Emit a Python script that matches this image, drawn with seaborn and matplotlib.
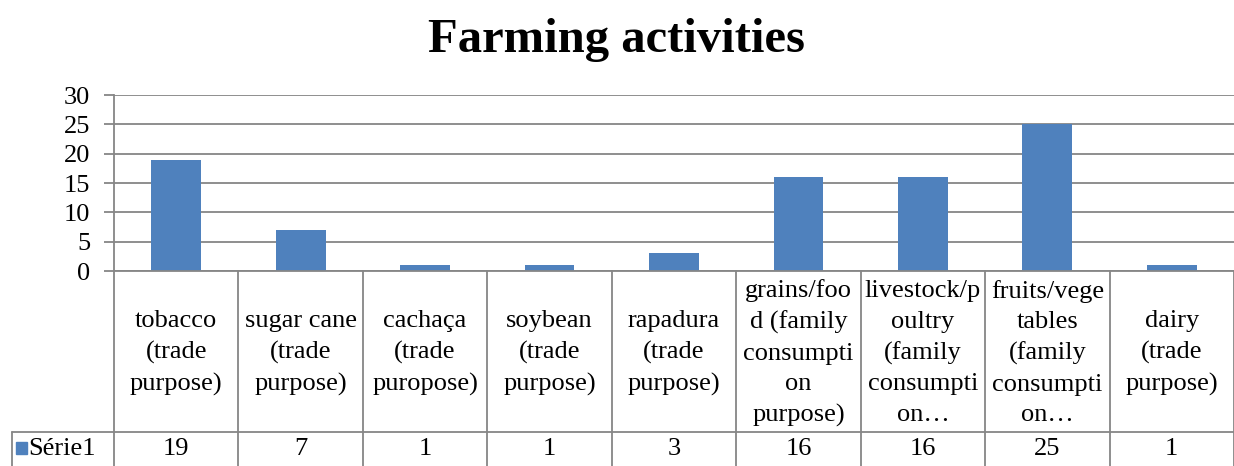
import pandas as pd
import seaborn as sns
import matplotlib.pyplot as plt
from matplotlib.patches import Rectangle
from matplotlib.transforms import blended_transform_factory

# Chart data
categories = ['tobacco\n(trade\npurpose)', 'sugar cane\n(trade\npurpose)', 'cachaça\n(trade\npuropose)',
              'soybean\n(trade\npurpose)', 'rapadura\n(trade\npurpose)',
              'grains/foo\nd (family\nconsumpti\non\npurpose)',
              'livestock/p\noultry\n(family\nconsumpti\non…',
              'fruits/vege\ntables\n(family\nconsumpti\non…',
              'dairy\n(trade\npurpose)']
values = [19, 7, 1, 1, 3, 16, 16, 25, 1]
series_name = 'Série1'
y_ticks = [0, 5, 10, 15, 20, 25, 30]

bar_color = '#4F81BD'
line_color = '#868686'

sns.set_theme(style='white')
plt.rcParams['font.family'] = ['Liberation Serif', 'DejaVu Serif']
plt.rcParams['text.color'] = 'black'
plt.rcParams['ytick.labelcolor'] = 'black'

W, H = 1234, 466
fig = plt.figure(figsize=(W / 100, H / 100), dpi=100)
ax = fig.add_axes([114 / W, 1 - 271 / H, 1 - 114 / W, (271 - 95) / H])

df = pd.DataFrame({'activity': categories, 'count': values})
sns.barplot(data=df, x='activity', y='count', color=bar_color, saturation=1,
            width=0.4, linewidth=0, ax=ax)

ax.set_xlim(-0.5, len(categories) - 0.5)
ax.set_ylim(y_ticks[0], y_ticks[-1])
ax.set_yticks(y_ticks)
ax.set_xticks([])
ax.set_xlabel('')
ax.set_ylabel('')
ax.set_axisbelow(True)
ax.yaxis.grid(True, color=line_color, linewidth=1.3)
ax.tick_params(axis='y', left=True, length=7, width=1.3, color=line_color,
               labelsize=19, pad=10, labelcolor='black')
for s in ['top', 'right']:
    ax.spines[s].set_visible(False)
for s in ['left', 'bottom']:
    ax.spines[s].set_color(line_color)
    ax.spines[s].set_linewidth(1.3)

# Data table under the chart
trans = blended_transform_factory(ax.transData, fig.transFigure)
y_axis_bottom = 1 - 271 / H
y_row_line = 1 - 432 / H
for i in range(len(categories) + 1):
    ax.plot([i - 0.5, i - 0.5], [y_axis_bottom, 0], transform=trans,
            color=line_color, lw=1.3, clip_on=False)
fig.add_artist(plt.Line2D([12 / W, 1], [y_row_line, y_row_line],
                          color=line_color, lw=1.3))
fig.add_artist(plt.Line2D([12 / W, 12 / W], [y_row_line, 0],
                          color=line_color, lw=1.3))

for i, (cat, val) in enumerate(zip(categories, values)):
    ax.text(i, 1 - 353 / H, cat, transform=trans, ha='center', va='center',
            fontsize=19, linespacing=1.5, color='black')
    ax.text(i, 1 - 449 / H, str(val), transform=trans, ha='center',
            va='center', fontsize=19, color='black')

# legend key in the table header
fig.add_artist(Rectangle((16 / W, 1 - 454 / H), 11 / W, 12 / H,
                         color=bar_color, transform=fig.transFigure))
fig.text(28 / W, 1 - 449 / H, series_name, ha='left', va='center',
         fontsize=19, color='black')

fig.suptitle('Farming activities', fontsize=35, fontweight='bold', y=1 - 40 / H,
             va='center', color='black')

fig.savefig('out.png', dpi=100)
